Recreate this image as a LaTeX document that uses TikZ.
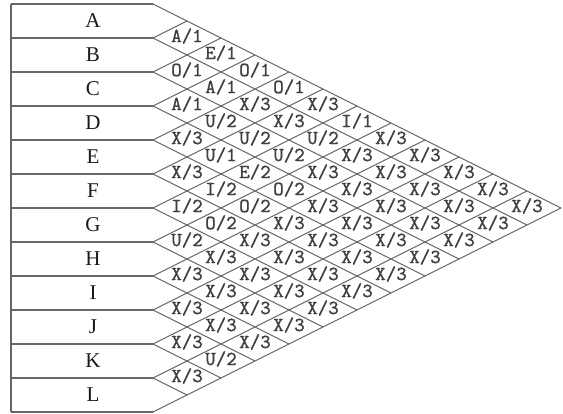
\documentclass[tikz,border=0pt]{standalone}
\usepackage{fontspec}
\setmainfont{Liberation Serif}
\newfontfamily\monof{lmmono10-regular.otf}[FakeBold=1]
\begin{document}
\begin{tikzpicture}[x=1pt,y=-1pt,
  ln/.style={draw=black!60,line width=1.1pt},
  lbl/.style={inner sep=0pt,text=black!75,font=\monof\fontsize{20}{20}\selectfont},
  row/.style={inner sep=0pt,text=black!90,font=\fontsize{21}{21}\selectfont}]
\useasboundingbox[fill=white] (0,0) rectangle (563,414);
% row boundaries and left frame
\foreach \k in {0,...,12} {
  \coordinate (L\k) at (11,{4+34*\k});
  \coordinate (P\k) at (153,{4+34*\k});
  \draw[ln] (L\k) -- (P\k);
}
\draw[ln] (L0) -- (L12);
% lattice diagonals
\foreach \k in {0,...,11} \draw[ln] (P\k) -- ++({34*(12-\k)},{17*(12-\k)});
\foreach \k in {1,...,12} \draw[ln] (P\k) -- ++({34*\k},{-17*\k});
% row letters
\foreach \t [count=\i from 0] in {A,B,C,D,E,F,G,H,I,J,K,L}
  \node[row] (r\t) at (93,{21+34*\i}) {\t};
% cell labels
\newcommand\cellcol[2]{%
  \foreach \p/\q [count=\i] in {#2} {
    \pgfmathtruncatemacro\bb{#1-1+2*\i}
    \node[lbl] (c#1-\bb) at ({153+34*#1},{4+17*\bb-2}) {\p/\q};
  }}
\cellcol{1}{A/1,O/1,A/1,X/3,X/3,I/2,U/2,X/3,X/3,X/3,X/3}
\cellcol{2}{E/1,A/1,U/2,U/1,I/2,O/2,X/3,X/3,X/3,U/2}
\cellcol{3}{O/1,X/3,U/2,E/2,O/2,X/3,X/3,X/3,X/3}
\cellcol{4}{O/1,X/3,U/2,O/2,X/3,X/3,X/3,X/3}
\cellcol{5}{X/3,U/2,X/3,X/3,X/3,X/3,X/3}
\cellcol{6}{I/1,X/3,X/3,X/3,X/3,X/3}
\cellcol{7}{X/3,X/3,X/3,X/3,X/3}
\cellcol{8}{X/3,X/3,X/3,X/3}
\cellcol{9}{X/3,X/3,X/3}
\cellcol{10}{X/3,X/3}
\cellcol{11}{X/3}
\end{tikzpicture}
\end{document}
